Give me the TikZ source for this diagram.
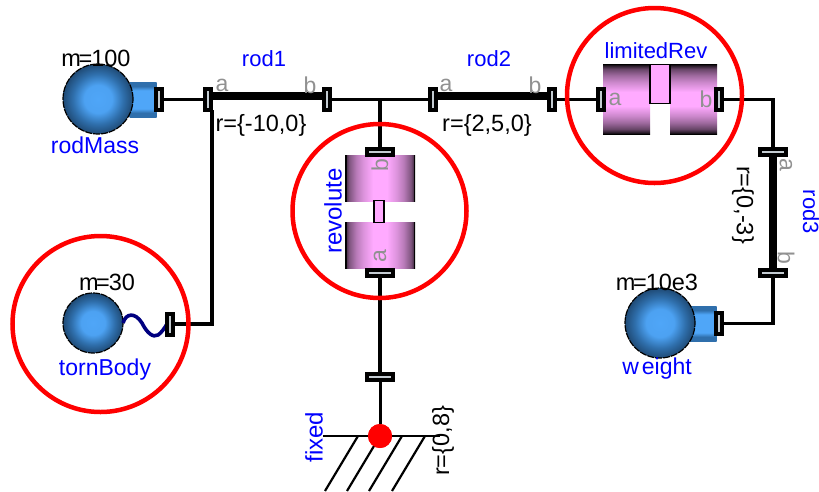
\documentclass[tikz,border=0pt]{standalone}
\usepackage{fontspec}
\usetikzlibrary{calc}
\setmainfont{Liberation Sans}
\definecolor{slit}{HTML}{C4CCD2}
\definecolor{blu}{HTML}{0000FF}
\definecolor{gry}{HTML}{919191}
\definecolor{pnk}{HTML}{FFAAFF}
\pgfdeclareverticalshading{pinkv}{100bp}{
 color(0bp)=(black); color(25bp)=(black); color(26bp)=(black!85!pnk); color(28.5bp)=(black!60!pnk);
 color(33bp)=(black!38!pnk); color(38bp)=(black!20!pnk); color(45bp)=(pnk); color(55bp)=(pnk);
 color(62bp)=(black!20!pnk); color(67bp)=(black!38!pnk); color(71.5bp)=(black!60!pnk); color(74bp)=(black!85!pnk); color(75bp)=(black); color(100bp)=(black)}
\pgfdeclarehorizontalshading{pinkh}{100bp}{
 color(0bp)=(black); color(25.7bp)=(black); color(26bp)=(black!70!pnk); color(28bp)=(black!50!pnk);
 color(33bp)=(black!28!pnk); color(38bp)=(black!14!pnk); color(45bp)=(pnk); color(55bp)=(pnk);
 color(62bp)=(black!14!pnk); color(67bp)=(black!28!pnk); color(72bp)=(black!50!pnk); color(74bp)=(black!70!pnk); color(74.3bp)=(black); color(100bp)=(black)}
\definecolor{bluA}{HTML}{4FA6F8}
\definecolor{bluB}{HTML}{2F6FAC}
\definecolor{bluC}{HTML}{1F4A75}
\definecolor{navyw}{HTML}{000080}
\pgfdeclareverticalshading{bluev}{100bp}{
 color(0bp)=(bluB); color(25bp)=(bluB); color(31bp)=(bluB); color(37bp)=(bluA); color(63bp)=(bluA); color(69bp)=(bluB); color(75bp)=(bluB); color(100bp)=(bluB)}
\pgfdeclareradialshading{ballsh}{\pgfpoint{0bp}{0bp}}{
 color(0bp)=(bluA); color(10bp)=(bluA!92!bluB); color(18bp)=(bluB); color(25bp)=(bluC); color(50bp)=(bluC)}
\tikzset{
 wire/.style={draw=black,line width=3.8pt},
 rodline/.style={draw=black,line width=8pt},
 porth/.style={draw=black,line width=4pt,fill=slit,minimum width=6pt,minimum height=21pt,inner sep=0pt,outer sep=0pt,rectangle},
 portv/.style={draw=black,line width=4pt,fill=slit,minimum width=26pt,minimum height=6pt,inner sep=0pt,outer sep=0pt,rectangle},
 ball/.style={circle,draw=black,line width=1.2pt,dash pattern=on 7pt off 1pt,shading=ballsh,inner sep=0pt,outer sep=0pt,minimum size=#1},
 cyl/.style={rectangle,shading=bluev,draw=none,inner sep=0pt,outer sep=0pt,minimum width=27pt,minimum height=35pt},
 cylv/.style={rectangle,shading=pinkv,draw=none,inner sep=0pt,outer sep=0pt,minimum width=47pt,minimum height=70pt},
 cylh/.style={rectangle,shading=pinkh,draw=none,inner sep=0pt,outer sep=0pt,minimum width=70pt,minimum height=46pt},
 stem/.style={rectangle,draw=black,line width=1.6pt,fill=pnk,inner sep=0pt,outer sep=0pt},
 ring/.style={circle,draw=red,line width=4.5pt,inner sep=0pt,outer sep=0pt,minimum size=#1},
 blab/.style={text=blu,font=\fontsize{#1}{#1}\selectfont,inner sep=0pt},
 blab/.default=22,
 klab/.style={text=black,font=\fontsize{#1}{#1}\selectfont,inner sep=0pt},
 klab/.default=23.5,
 glab/.style={text=gry,font=\fontsize{23}{23}\selectfont,inner sep=0pt},
 hatch/.style={draw=black,line width=2.2pt},
 reddot/.style={circle,fill=red,inner sep=0pt,outer sep=0pt,minimum size=24pt},
}
\newcommand{\mEq}{m\kern-2.5pt=\kern-1pt}
\begin{document}
\begin{tikzpicture}[x=1pt,y=-1pt]
\useasboundingbox (0,0) rectangle (819,491);
% blocks
\node[cyl] (mcyl) at (143,99.5) {};
\node[cyl] (wcyl) at (703,323.5) {};
\node[ball=70pt] (rodMass) at (98,99) {};
\node[ball=60pt] (tornBody) at (93,323) {};
\node[ball=70pt] (weight) at (660,323) {};
\node[cylv] (lim1) at (626.5,99) {};
\node[cylv] (lim2) at (693.5,99) {};
\node[stem,minimum width=20pt,minimum height=39pt] (limstem) at (660,84) {};
\node[cylh] (revb) at (380,178) {};
\node[cylh] (reva) at (380,245) {};
\node[stem,minimum width=10pt,minimum height=22pt] (revstem) at (379,211.5) {};
% ports
\node[porth] (mport) at (159,99.5) {};
\node[porth] (r1a) at (208,99.5) {};
\node[porth] (r1b) at (327,99.5) {};
\node[porth] (r2a) at (433,99.5) {};
\node[porth] (r2b) at (552,99.5) {};
\node[porth] (la) at (601,99.5) {};
\node[porth] (lb) at (719,99.5) {};
\node[porth] (tport) at (170,324) {};
\node[porth] (wport) at (719,323.5) {};
\node[portv] (rb) at (380,152) {};
\node[portv] (ra) at (380,273) {};
\node[portv] (fport) at (380,377) {};
\node[portv] (r3a) at (773,152) {};
\node[portv] (r3b) at (773,272.5) {};
% ground
\node[reddot] (fdot) at (380,436) {};
\coordinate (gl) at (323,436);
\coordinate (gr) at (440,436);
\coordinate (h1a) at (358,436); \coordinate (h1b) at (325,491);
\coordinate (h2b) at (347,491);
\coordinate (h3a) at (402,436); \coordinate (h3b) at (369,491);
\coordinate (h4a) at (425,436); \coordinate (h4b) at (392,491);
\coordinate (jct) at (380,99.5);
\draw[hatch] (gl) -- (gr);
\draw[hatch] (h1a) -- (h1b);
\draw[hatch] (h3a) -- (h3b);
\draw[hatch] (h4a) -- (h4b);
\draw[hatch] (fdot.center) -- (h2b);
% wires
\draw[wire] (mport) -- (r1a);
\draw[wire] (r1b) -- (r2a);
\draw[wire] (r2b) -- (la);
\draw[wire] (jct) -- (rb);
\draw[wire] (lb) -| (r3a);
\draw[wire] (r3b) |- (wport);
\draw[wire] (tport.east) -| ([xshift=1pt]r1a.south east);
\draw[line width=4.5pt] (ra) -- ($(ra)!0.8!(fport)$) coordinate (fm);
\draw[wire] (fm) -- (fport);
\draw[draw=black,line width=3pt] (fport) -- (fdot);
\node[reddot] at (fdot) {};
% rods
\draw[rodline] ([yshift=3.5pt]r1a.east) -- ([yshift=3.5pt]r1b.west);
\draw[rodline] ([yshift=3.5pt]r2a.east) -- ([yshift=3.5pt]r2b.west);
\draw[rodline] (r3a.south) -- (r3b.north);
\draw[draw=navyw,line width=3.6pt] (tornBody.east) .. controls (126,313) and (135,312) .. (142,323) .. controls (147,333) and (153,338) .. (158,335) .. controls (161,333) and (164,329) .. (tport.west);
% redraw ports above rods and wires
\foreach \n in {mport,r1a,r1b,r2a,r2b,la,lb,tport,wport}{\node[porth] at (\n) {};}
\foreach \n in {rb,ra,fport,r3a,r3b}{\node[portv] at (\n) {};}
% labels
\node[klab] (t1) at (96,58) {\mEq 100};
\node[blab=23] (t2) at (95,145) {rodMass};
\node[blab] (t3) at (264,59) {rod1};
\node[glab] (t4) at (222,85) {a};
\node[glab] (t5) at (310,85) {b};
\node[klab] (t6) at (261,125) {r=\{-10,0\}};
\node[blab] (t7) at (489,59) {rod2};
\node[glab] (t8) at (446,85) {a};
\node[glab] (t9) at (535,85) {b};
\node[klab] (t10) at (487,125) {r=\{2,5,0\}};
\node[blab] (t11) at (656,51) {limitedRev};
\node[glab] (t12) at (615,99) {a};
\node[glab] (t13) at (706,99) {b};
\node[klab,rotate=-90] (t14) at (743,205) {r=\{0,-3\}};
\node[blab,rotate=-90] (t15) at (811,212) {rod3};
\node[glab,rotate=-90] (t16) at (786,165) {a};
\node[glab,rotate=-90] (t17) at (786,258) {b};
\node[blab=24,rotate=90] (t18) at (333,211) {revolute};
\node[glab,rotate=90] (t19) at (380,165) {b};
\node[glab,rotate=90] (t20) at (380,256) {a};
\node[klab] (t21) at (107,282) {\mEq 30};
\node[blab=23] (t22) at (105,370) {tornBody};
\node[klab] (t23) at (657,282) {\mEq 10e3};
\node[blab=23] (t24) at (657,369) {w\hspace{3pt}eight};
\node[blab=24,rotate=90] (t25) at (314,437) {fixed};
\node[klab,rotate=90] (t26) at (443,441) {r=\{0,8\}};
% rings
\node[ring=176pt] (c1) at (100.5,324) {};
\node[ring=174pt] (c2) at (379.5,211) {};
\node[ring=175pt] (c3) at (654.5,95.5) {};
\end{tikzpicture}
\end{document}
